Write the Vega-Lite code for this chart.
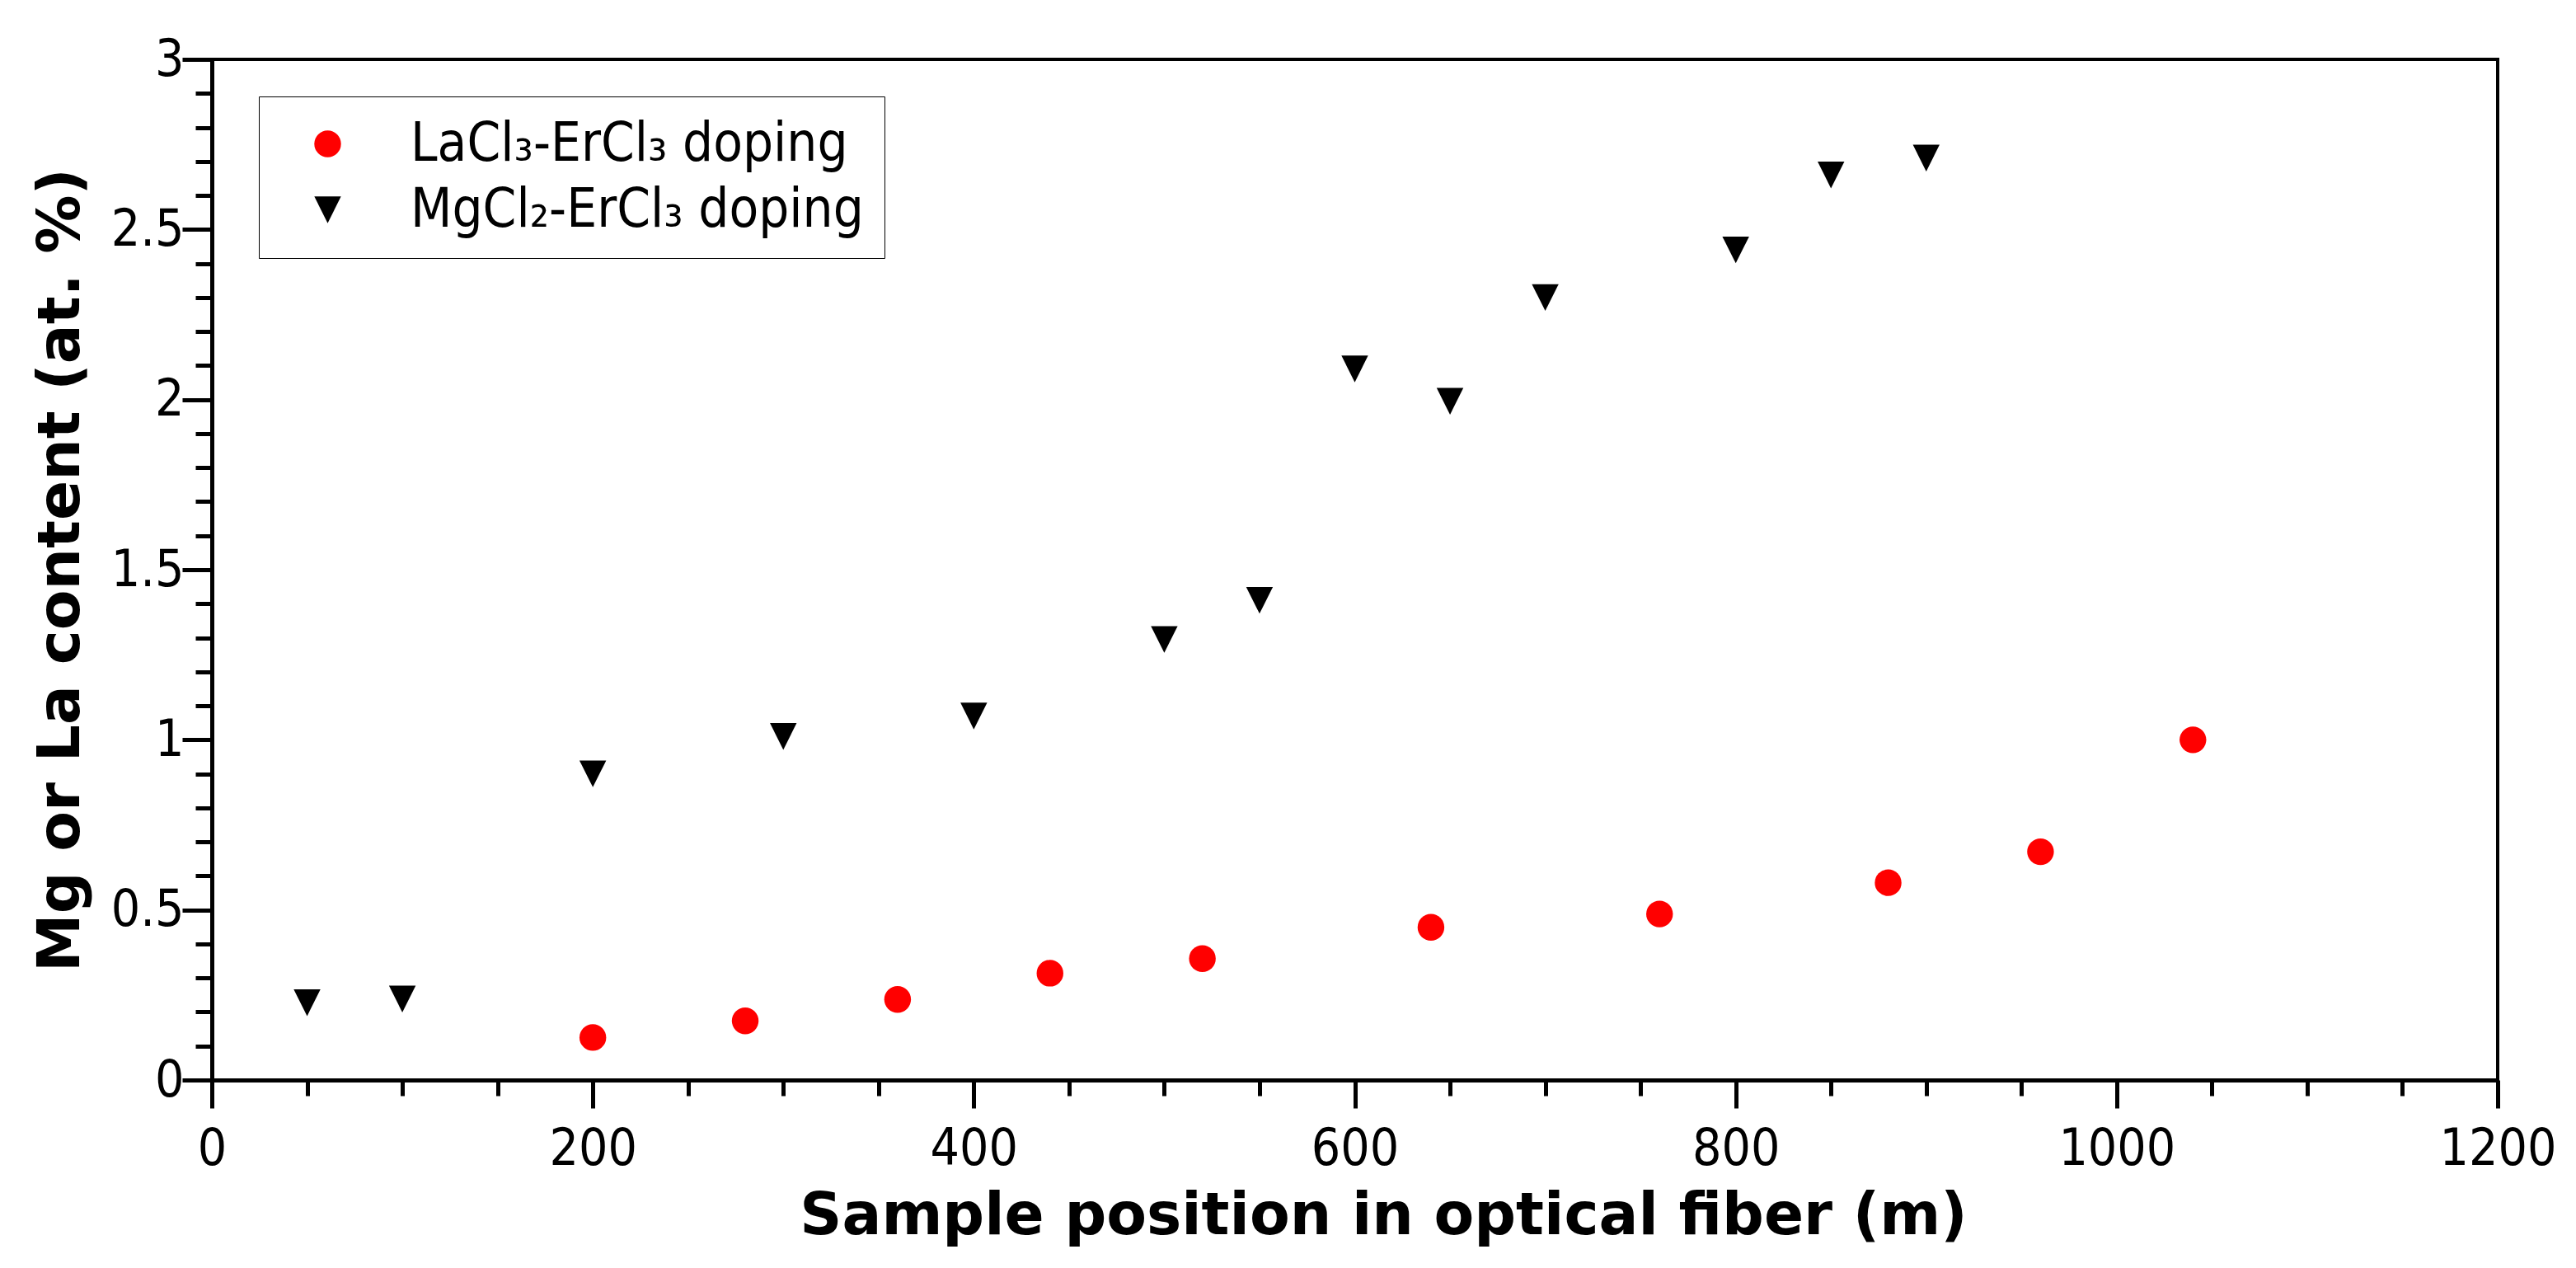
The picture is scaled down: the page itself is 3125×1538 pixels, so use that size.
{
  "$schema": "https://vega.github.io/schema/vega-lite/v6.json",
  "description": "Mg or La content along the optical fiber for two doping routes",
  "autosize": "none",
  "padding": {"left": 257, "top": 72, "right": 95, "bottom": 229},
  "width": 2773,
  "height": 1238,
  "background": "white",
  "config": {
    "view": {"stroke": "black", "strokeWidth": 4},
    "font": "DejaVu Sans",
    "axis": {
      "grid": false,
      "domainColor": "black",
      "domainWidth": 5,
      "tickColor": "black",
      "tickWidth": 5,
      "labelColor": "black",
      "labelFont": "DejaVu Sans Condensed, Liberation Sans Narrow, DejaVu Sans",
      "labelFontSize": 62,
      "titleColor": "black",
      "titleFont": "DejaVu Sans",
      "titleFontWeight": "bold",
      "titleFontSize": 71
    }
  },
  "data": {
    "values": [
      {"series": "LaCl₃-ErCl₃ doping", "position": 200, "content": 0.125},
      {"series": "LaCl₃-ErCl₃ doping", "position": 280, "content": 0.174},
      {"series": "LaCl₃-ErCl₃ doping", "position": 360, "content": 0.237},
      {"series": "LaCl₃-ErCl₃ doping", "position": 440, "content": 0.314},
      {"series": "LaCl₃-ErCl₃ doping", "position": 520, "content": 0.357},
      {"series": "LaCl₃-ErCl₃ doping", "position": 640, "content": 0.449},
      {"series": "LaCl₃-ErCl₃ doping", "position": 760, "content": 0.488},
      {"series": "LaCl₃-ErCl₃ doping", "position": 880, "content": 0.58},
      {"series": "LaCl₃-ErCl₃ doping", "position": 960, "content": 0.671},
      {"series": "LaCl₃-ErCl₃ doping", "position": 1040, "content": 1.0},
      {"series": "MgCl₂-ErCl₃ doping", "position": 50, "content": 0.227},
      {"series": "MgCl₂-ErCl₃ doping", "position": 100, "content": 0.238},
      {"series": "MgCl₂-ErCl₃ doping", "position": 200, "content": 0.9},
      {"series": "MgCl₂-ErCl₃ doping", "position": 300, "content": 1.01},
      {"series": "MgCl₂-ErCl₃ doping", "position": 400, "content": 1.07},
      {"series": "MgCl₂-ErCl₃ doping", "position": 500, "content": 1.295},
      {"series": "MgCl₂-ErCl₃ doping", "position": 550, "content": 1.41},
      {"series": "MgCl₂-ErCl₃ doping", "position": 600, "content": 2.09},
      {"series": "MgCl₂-ErCl₃ doping", "position": 650, "content": 1.995},
      {"series": "MgCl₂-ErCl₃ doping", "position": 700, "content": 2.3},
      {"series": "MgCl₂-ErCl₃ doping", "position": 800, "content": 2.44},
      {"series": "MgCl₂-ErCl₃ doping", "position": 850, "content": 2.66},
      {"series": "MgCl₂-ErCl₃ doping", "position": 900, "content": 2.71}
    ]
  },
  "mark": {"type": "point", "filled": true, "opacity": 1, "size": 1050},
  "encoding": {
    "x": {
      "field": "position",
      "type": "quantitative",
      "title": "Sample position in optical fiber (m)",
      "scale": {"domain": [0, 1200], "nice": false, "zero": false},
      "axis": {
        "values": [0, 50, 100, 150, 200, 250, 300, 350, 400, 450, 500, 550, 600, 650, 700, 750, 800, 850, 900, 950, 1000, 1050, 1100, 1150, 1200],
        "format": "d",
        "labelExpr": "datum.value % 200 === 0 ? datum.label : ''",
        "tickSize": {"condition": {"test": "datum.value % 200 === 0", "value": 34}, "value": 19},
        "labelPadding": 19,
        "labelFlush": false,
        "labelOverlap": false,
        "titlePadding": 16,
        "titleX": 1421
      }
    },
    "y": {
      "field": "content",
      "type": "quantitative",
      "title": "Mg or La content (at. %)",
      "scale": {"domain": [0, 3], "nice": false},
      "axis": {
        "values": [0, 0.1, 0.2, 0.3, 0.4, 0.5, 0.6, 0.7, 0.8, 0.9, 1, 1.1, 1.2, 1.3, 1.4, 1.5, 1.6, 1.7, 1.8, 1.9, 2, 2.1, 2.2, 2.3, 2.4, 2.5, 2.6, 2.7, 2.8, 2.9, 3],
        "format": "~g",
        "labelExpr": "abs(datum.value * 2 - round(datum.value * 2)) < 0.000001 ? datum.label : ''",
        "tickSize": {"condition": {"test": "abs(datum.value * 2 - round(datum.value * 2)) < 0.000001", "value": 36}, "value": 20},
        "labelPadding": -2,
        "labelFlush": false,
        "labelOverlap": false,
        "titlePadding": 24
      }
    },
    "color": {
      "field": "series",
      "type": "nominal",
      "scale": {"domain": ["LaCl₃-ErCl₃ doping", "MgCl₂-ErCl₃ doping"], "range": ["#ff0000", "#000000"]},
      "legend": {
        "title": null,
        "orient": "none",
        "legendX": 57,
        "legendY": 45,
        "strokeColor": "black",
        "fillColor": "white",
        "padding": 25,
        "symbolOffset": 26,
        "symbolSize": 1050,
        "labelOffset": 68,
        "labelFont": "DejaVu Sans Condensed, Liberation Sans Narrow, DejaVu Sans",
        "labelFontSize": 65,
        "labelColor": "black",
        "labelLimit": 0,
        "rowPadding": 14,
        "encode": {"legend": {"update": {"strokeWidth": {"value": 4}}}}
      }
    },
    "shape": {
      "field": "series",
      "type": "nominal",
      "scale": {"domain": ["LaCl₃-ErCl₃ doping", "MgCl₂-ErCl₃ doping"], "range": ["circle", "M -1 -1 L 1 -1 L 0 1 Z"]}
    }
  }
}
